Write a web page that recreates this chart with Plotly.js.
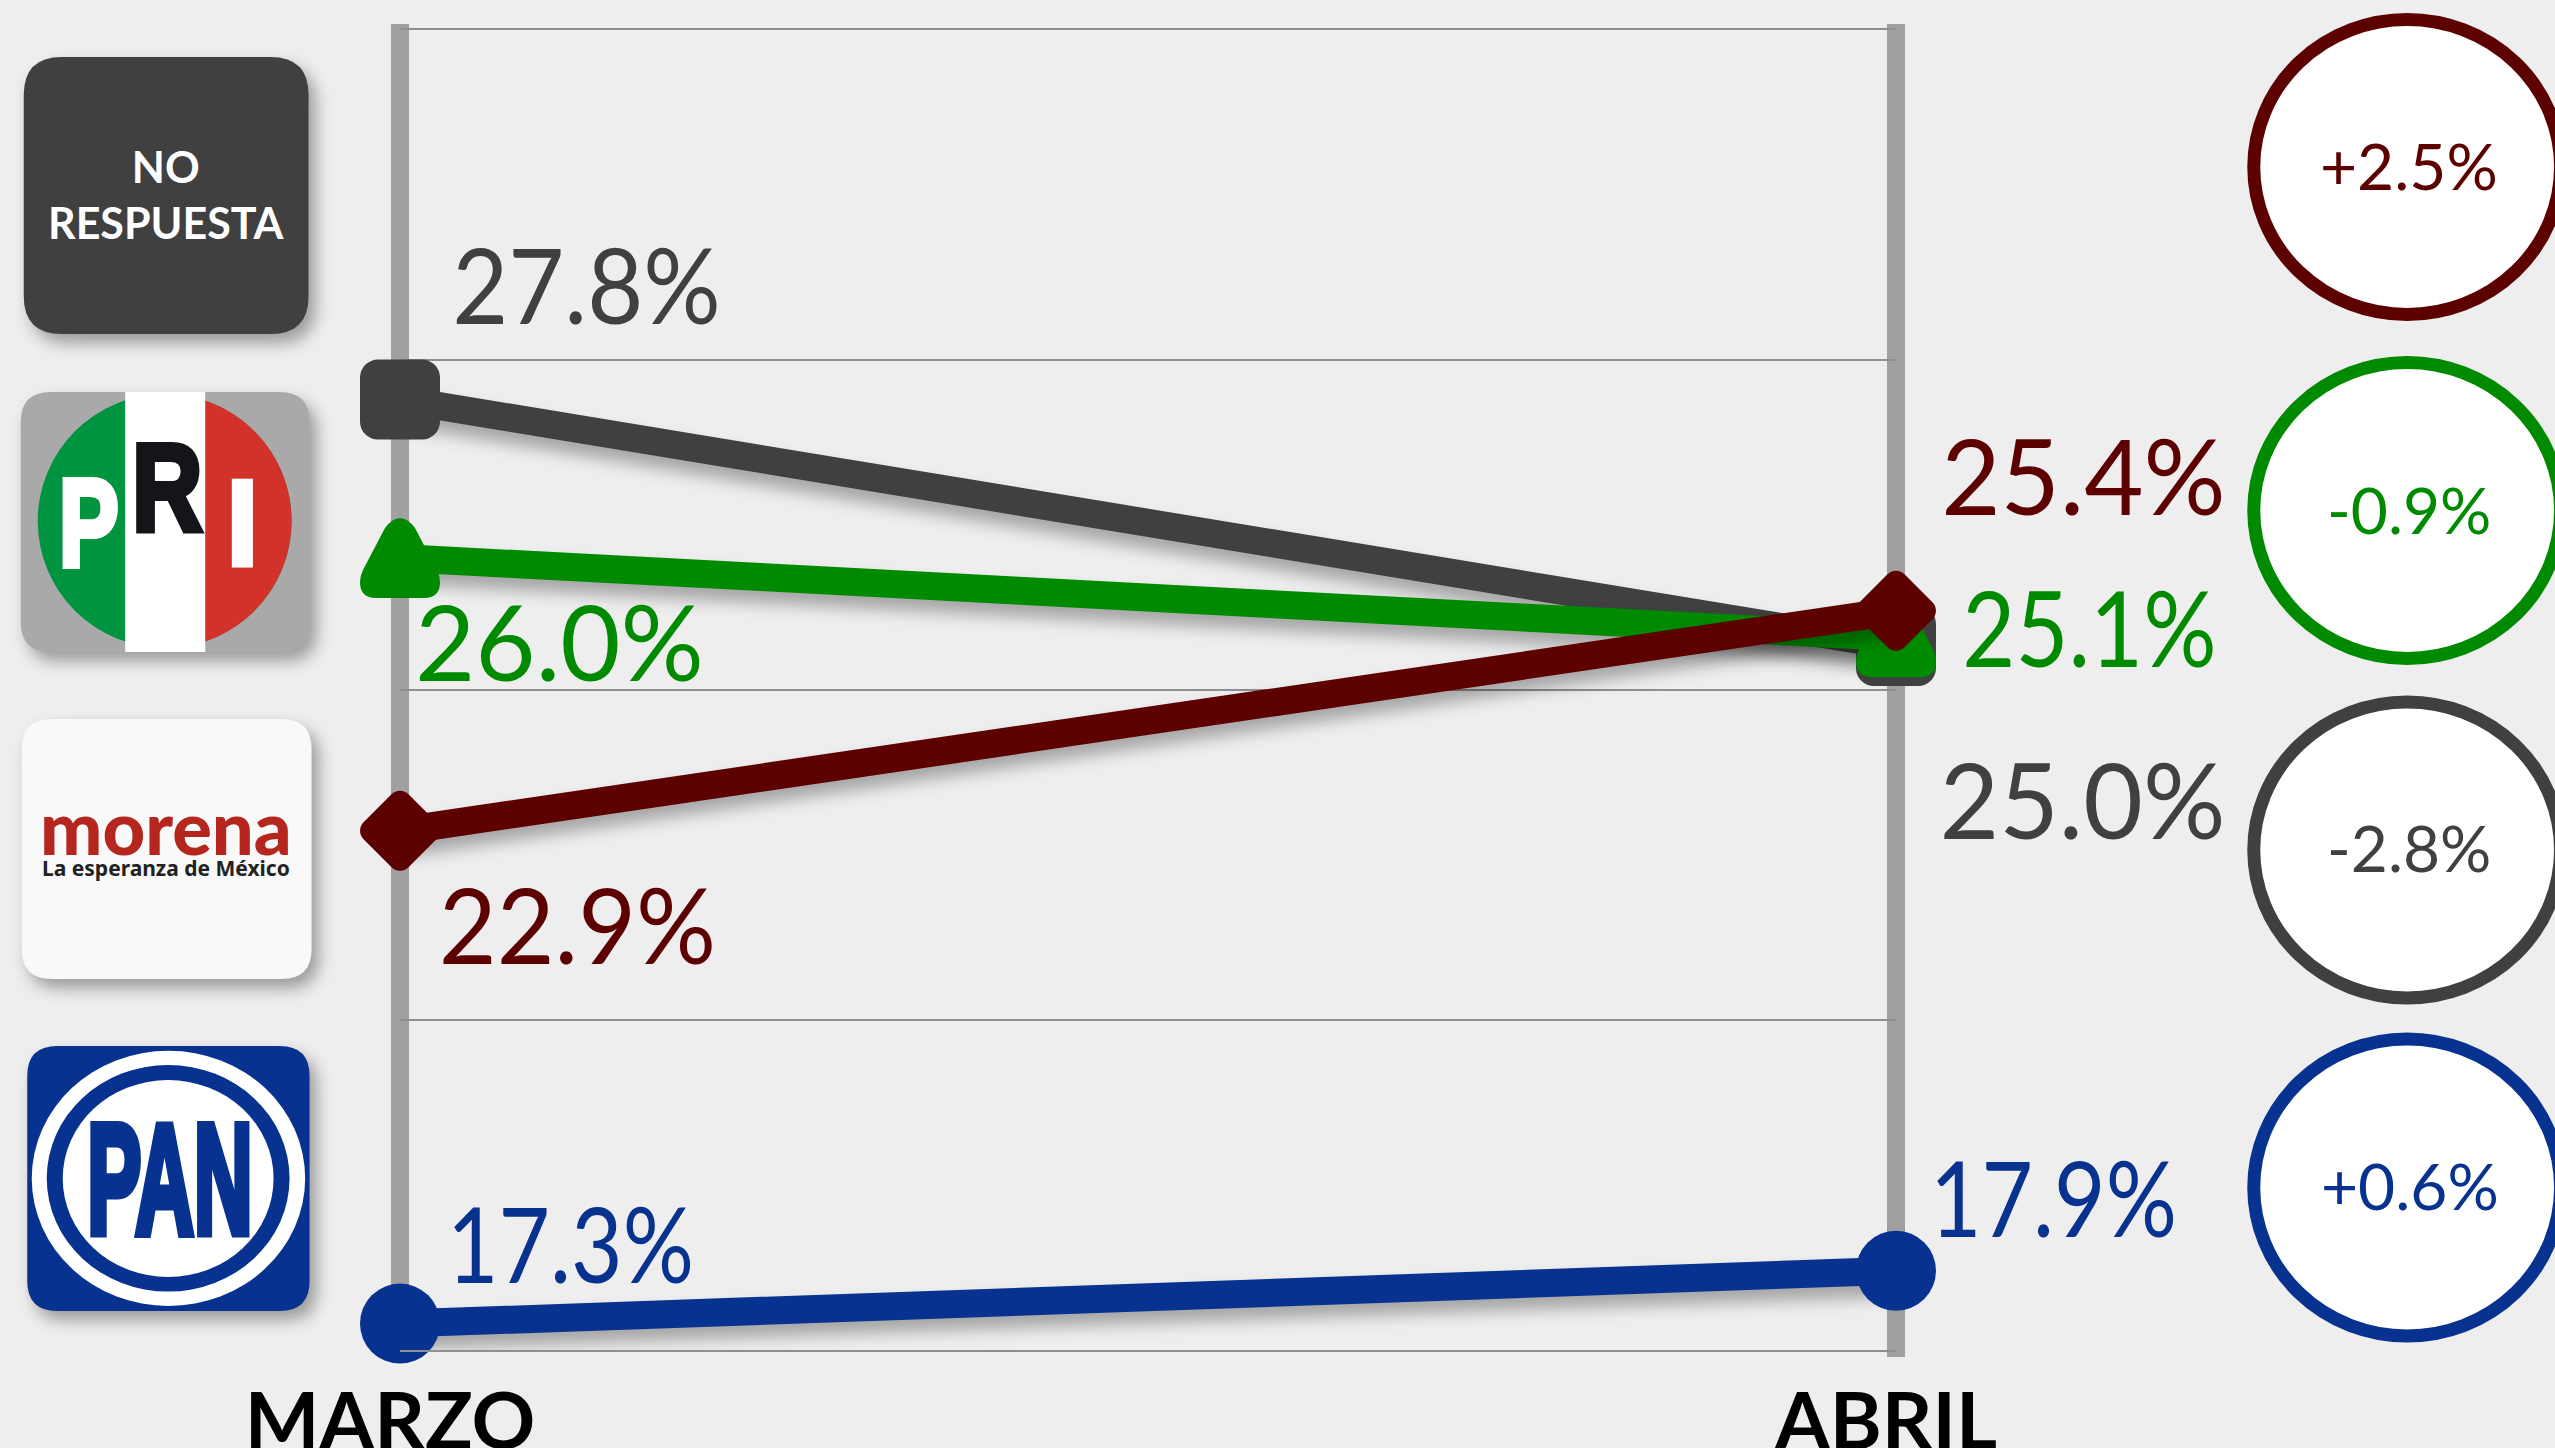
<!DOCTYPE html>
<html>
<head>
<meta charset="utf-8">
<script src="https://cdn.plot.ly/plotly-3.0.1.min.js"></script>
<style>html,body{margin:0;padding:0;background:#eeeeee;overflow:hidden}</style>
</head>
<body>
<div id="chart" style="width:2555px;height:1448px"></div>
<script>
// ---- data ----
const months = ['MARZO', 'ABRIL'];
const noRespuesta = [27.8, 25.0];
const pri = [26.0, 25.1];
const morena = [22.9, 25.4];
const pan = [17.3, 17.9];
const deltaMorena = '+2.5%';
const deltaPri = '-0.9%';
const deltaNoRespuesta = '-2.8%';
const deltaPan = '+0.6%';

// ---- styles ----
const GRAY = '#404040', GREEN = '#008a00', MAROON = '#5d0000', BLUE = '#07328f';
const FONT = 'Lato, sans-serif';
const W = 2555, H = 1448, L = 399.5, R = 1896.5, T = 30, B = 1350;
const X = p => (p - L) / (R - L);
const Y = p => (B - p) / (B - T);

const series = [
  {name: 'No respuesta', v: noRespuesta, c: GRAY, sym: 'square', size: 44, lw: 36},
  {name: 'PRI', v: pri, c: GREEN, sym: 'triangle-up', size: 40, lw: 0},
  {name: 'Morena', v: morena, c: MAROON, sym: 'diamond', size: 43, lw: 24},
  {name: 'PAN', v: pan, c: BLUE, sym: 'circle', size: 80, lw: 0}
];
const traces = series.map(s => ({
  type: 'scatter', mode: 'lines+markers', name: s.name, x: months, y: s.v,
  cliponaxis: false, hoverinfo: 'name+y',
  line: {color: s.c, width: 28},
  marker: {color: s.c, symbol: s.sym, size: s.size, opacity: 1, line: {color: s.c, width: s.lw}}
}));

// ---- helpers for decorative shapes, given in page pixels ----
function roundRect(x0, y0, x1, y1, r, fill) {
  const p = [[x0 + r, y0], [x1 - r, y0], [x1, y0], [x1, y0 + r], [x1, y1 - r], [x1, y1], [x1 - r, y1],
             [x0 + r, y1], [x0, y1], [x0, y1 - r], [x0, y0 + r], [x0, y0], [x0 + r, y0]]
    .map(q => X(q[0]) + ',' + Y(q[1]));
  return {type: 'path', xref: 'paper', yref: 'paper', layer: 'below', fillcolor: fill, line: {width: 0},
    path: `M${p[0]} L${p[1]} Q${p[2]} ${p[3]} L${p[4]} Q${p[5]} ${p[6]} L${p[7]} Q${p[8]} ${p[9]} L${p[10]} Q${p[11]} ${p[12]} Z`};
}
function ell(x0, y0, x1, y1, fill, lineColor, lw) {
  return {type: 'circle', xref: 'paper', yref: 'paper', layer: 'below',
    x0: X(x0), x1: X(x1), y0: Y(y1), y1: Y(y0), fillcolor: fill,
    line: {color: lineColor || fill, width: lw || 0}};
}
function rect(x0, y0, x1, y1, fill) {
  return {type: 'rect', xref: 'paper', yref: 'paper', layer: 'below',
    x0: X(x0), x1: X(x1), y0: Y(y1), y1: Y(y0), fillcolor: fill, line: {width: 0}};
}
// right half of the PRI disc
function halfDisc(cx, cy, r, fill) {
  const k = 0.5523 * r;
  const p = [[cx, cy - r], [cx + k, cy - r], [cx + r, cy - k], [cx + r, cy], [cx + r, cy + k], [cx + k, cy + r], [cx, cy + r]]
    .map(q => X(q[0]) + ',' + Y(q[1]));
  return {type: 'path', xref: 'paper', yref: 'paper', layer: 'below', fillcolor: fill, line: {width: 0},
    path: `M${p[0]} C${p[1]} ${p[2]} ${p[3]} C${p[4]} ${p[5]} ${p[6]} Z`};
}

const shapes = [
  // the two month bars sit on the plot's left and right edges; paper refs keep them unclipped
  {type: 'line', xref: 'paper', yref: 'paper', layer: 'below', x0: 0, x1: 0, y0: Y(1357), y1: Y(24), line: {color: '#a0a0a0', width: 18}},
  {type: 'line', xref: 'paper', yref: 'paper', layer: 'below', x0: 1, x1: 1, y0: Y(1357), y1: Y(24), line: {color: '#a0a0a0', width: 18}},
  // logo boxes (indices 2-5 get a shadow)
  roundRect(23, 57, 308, 334, 38, GRAY),
  roundRect(20, 392, 309, 652, 30, '#a9a9a9'),
  roundRect(21, 719, 311, 979, 30, '#f9f9f9'),
  roundRect(26.5, 1046, 309, 1311, 30, BLUE),
  // PRI emblem
  ell(37, 394, 291, 648, '#009340'),
  halfDisc(164, 521, 127, '#d2322a'),
  rect(124.5, 392, 204.6, 652, '#ffffff'),
  // PAN emblem
  ell(31, 1050.7, 304.6, 1306, '#ffffff'),
  ell(46, 1065, 289, 1291.6, BLUE),
  ell(62, 1080, 273, 1277, '#ffffff'),
  // change badges
  ell(2254.5, 19.5, 2561.5, 314.5, '#ffffff', MAROON, 13),
  ell(2254.5, 362.5, 2561.5, 658.5, '#ffffff', GREEN, 13),
  ell(2254.5, 702, 2561.5, 998, '#ffffff', GRAY, 13),
  ell(2254.5, 1039, 2561.5, 1336, '#ffffff', BLUE, 13)
];

// ---- value labels: offsets from each point, in pixels ----
const marchShift = [[186.5, 116], [159, -82], [177, -93], [170.5, 81]];
const aprilShift = [[186.5, -152], [193.5, 11], [187, 136], [157.5, 74]];
const annotations = [];
series.forEach((s, i) => {
  [marchShift[i], aprilShift[i]].forEach((d, j) => {
    annotations.push({xref: 'x', yref: 'y', x: months[j], y: s.v[j], xshift: d[0], yshift: d[1],
      text: s.v[j].toFixed(1) + '%', showarrow: false, xanchor: 'center', yanchor: 'middle',
      font: {family: FONT, size: 104, color: s.c}});
  });
});
function note(text, x, y, size, color, family, weight) {
  annotations.push({xref: 'paper', yref: 'paper', x: X(x), y: Y(y), text, showarrow: false,
    xanchor: 'center', yanchor: 'middle', font: {family: family || FONT, size, color, weight: weight || 400}});
}
note(deltaMorena, 2410, 165, 64, MAROON);
note(deltaPri, 2410, 509, 64, GREEN);
note(deltaNoRespuesta, 2410, 847, 64, GRAY);
note(deltaPan, 2411, 1185, 64, BLUE);
note('NO<br>RESPUESTA', 165.5, 194, 43, '#ffffff', FONT, 700);
note('P', 88, 522, 125, '#ffffff', 'Liberation Sans', 700);
note('R', 166.5, 488, 125, '#141518', 'Liberation Sans', 700);
note('I', 241.5, 522, 125, '#ffffff', 'Liberation Sans', 700);
note('morena', 165.5, 826, 74, '#b5261e', FONT, 900);
note('La esperanza de México', 165.5, 868, 21, '#222222', 'Noto Sans', 700);
note('PAN', 169.5, 1179, 156, BLUE, 'Liberation Sans', 700);

const layout = {
  width: W, height: H, showlegend: false,
  paper_bgcolor: '#eeeeee', plot_bgcolor: 'rgba(0,0,0,0)',
  margin: {l: L, r: W - R, t: T, b: H - B, pad: 0, autoexpand: false},
  xaxis: {type: 'category', categoryorder: 'array', categoryarray: months, range: [0, 1], fixedrange: true,
    showgrid: false, zeroline: false, showline: true, mirror: true, linecolor: '#8f8f8f', linewidth: 2, ticks: '',
    tickfont: {family: FONT, size: 79, color: '#000000', weight: 700}, ticklabelshift: -10, ticklabelstandoff: 2},
  yaxis: {range: [17, 32], tick0: 17, dtick: 3.75, fixedrange: true, showticklabels: false, zeroline: false,
    showline: false, ticks: '', showgrid: true, gridcolor: '#8f8f8f', gridwidth: 2},
  shapes, annotations
};

Plotly.newPlot('chart', traces, layout, {displayModeBar: false, staticPlot: true}).then(() => {
  const root = document.getElementById('chart');
  // rounded marker corners
  root.querySelectorAll('.scatterlayer .points path.point').forEach(p => { p.style.strokeLinejoin = 'round'; });
  // rounded, box-proportioned triangle for the PRI series
  const tri = root.querySelectorAll('.scatterlayer .trace')[1].querySelectorAll('path.point');
  tri.forEach(p => p.setAttribute('d', 'M-40,24Q-40,18 -37,12L-15,-30Q0,-50 15,-30L37,12Q40,18 40,24Q40,40 24,40L-24,40Q-40,40 -40,24Z'));
  // soft shadows under the lines and logo boxes
  root.querySelectorAll('.scatterlayer .js-line').forEach(p => { p.style.filter = 'drop-shadow(0px 12px 8px rgba(0,0,0,0.3))'; });
  [2, 3, 4, 5].forEach(i => {
    const s = root.querySelector('.shapelayer path[data-index="' + i + '"]');
    if (s) s.style.filter = 'drop-shadow(7px 9px 8px rgba(0,0,0,0.35))';
  });
  // lining-figure widths of the value labels and condensed heavy logo lettering: [horizontal scale, added stroke]
  const squeeze = {
    P: [0.72, 6], R: [0.78, 6], I: [1.0, 3], PAN: [0.52, 9],
    '27.8%': [0.93, 0], '22.9%': [0.96, 0], '17.3%': [0.855, 0], '25.4%': [0.985, 0],
    '25.1%': [0.88, 0], '25.0%': [0.99, 0], '17.9%': [0.855, 0]
  };
  root.querySelectorAll('.annotation-text').forEach(t => {
    const q = squeeze[t.textContent];
    if (!q) return;
    const b = t.getBBox(), cx = b.x + b.width / 2;
    t.setAttribute('transform', `translate(${cx},0) scale(${q[0]},1) translate(${-cx},0)`);
    if (q[1]) { t.style.stroke = t.style.fill; t.style.strokeWidth = q[1] + 'px'; }
  });
});
</script>
</body>
</html>
